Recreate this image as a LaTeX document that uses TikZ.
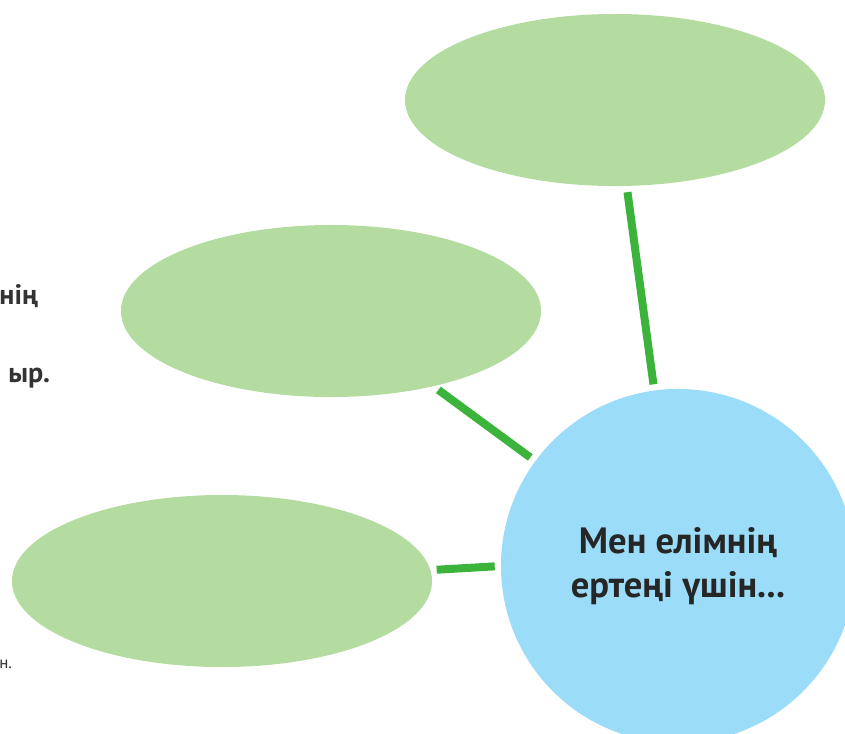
\documentclass[tikz,border=0pt]{standalone}
\usepackage{fontspec}
\setmainfont{PT Sans}
\usepackage{tikz}
\usetikzlibrary{shapes.geometric}

\definecolor{leafgreen}{RGB}{180,220,160}
\definecolor{skyblue}{RGB}{155,220,248}
\definecolor{linkgreen}{RGB}{60,180,60}

\tikzset{
  idea/.style={ellipse,fill=leafgreen,minimum width=10.5cm,minimum height=4.3cm,inner sep=0pt},
  hub/.style={circle,fill=skyblue,minimum size=8.85cm,inner sep=0pt,align=center,text=black!85,font=\fontsize{26}{31}\selectfont\bfseries},
  link/.style={linkgreen,line width=0.2cm,shorten <=0.15cm,shorten >=0.15cm},
  frag/.style={anchor=east,text=black!80,font=\fontsize{20}{20}\selectfont\bfseries}
}

\begin{document}
\begin{tikzpicture}[x=0.025cm,y=-0.025cm]
\useasboundingbox (0,0) rectangle (845,733);
\clip (0,0) rectangle (845,733);

\node[idea] (top) at (615,100) {};
\node[idea] (mid) at (331,311) {};
\node[idea] (low) at (222,581) {};
\node[hub] (me) at (678,566) {Мен елімнің\\ертеңі үшін...};

\draw[link] (top) -- (me);
\draw[link] (mid) -- (me);
\draw[link] (low.3.3) -- (me.180.8);

\node[frag] (frag1) at (43,296) {нің};
\node[frag] (frag2) at (55,378) {ыр.};
\node[frag,font=\fontsize{12}{12}\selectfont] (frag3) at (17,664) {н.};
\end{tikzpicture}
\end{document}
